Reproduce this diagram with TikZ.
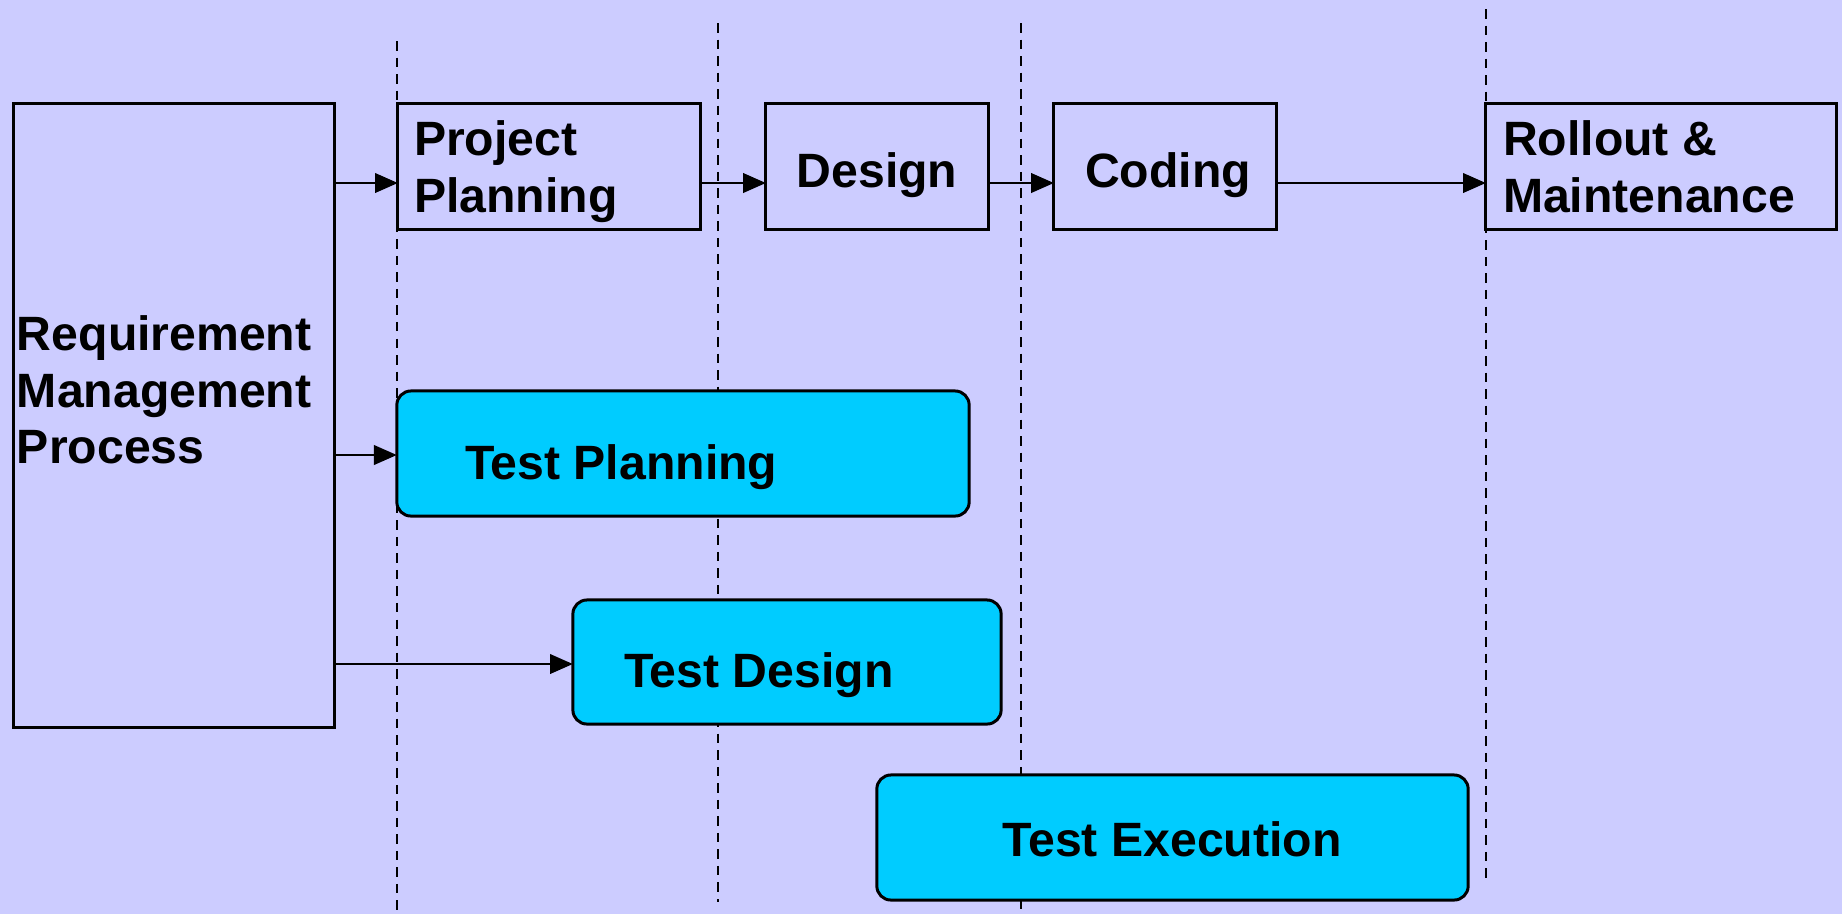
\documentclass[tikz,border=0pt]{standalone}
\usepackage{fontspec}
\setmainfont{Liberation Sans}
\usetikzlibrary{arrows.meta}
\definecolor{bg}{HTML}{CCCCFF}
\definecolor{cy}{HTML}{00CCFF}
\begin{document}
\begin{tikzpicture}[x=0.01cm,y=-0.01cm,
  every node/.style={font=\bfseries\fontsize{13.7pt}{16pt}\selectfont},
  box/.style={draw=black,line width=0.85pt,inner sep=0pt,outer sep=0pt},
  tbox/.style={box,fill=cy,rounded corners=4pt},
  lbl/.style={inner sep=0pt,outer sep=0pt,align=left},
  guide/.style={dash pattern=on 2.7pt off 2pt,line width=0.7pt},
  arr/.style={line width=0.8pt,-{Triangle[length=6.5pt,width=5.5pt]}}]
\fill[bg] (0,0) rectangle (1842,914);
\useasboundingbox (0,0) rectangle (1842,914);
% dashed guide lines
\coordinate (g1t) at (397,41);  \coordinate (g1b) at (397,914);
\coordinate (g2t) at (718,23);  \coordinate (g2b) at (718,902);
\coordinate (g3t) at (1021,23); \coordinate (g3b) at (1021,914);
\coordinate (g4t) at (1486,9);  \coordinate (g4b) at (1486,883);
\draw[guide] (g1t) -- (g1b);
\draw[guide] (g2t) -- (g2b);
\draw[guide] (g3t) -- (g3b);
\draw[guide] (g4t) -- (g4b);
% boxes
\node[box,minimum width=3.20cm,minimum height=6.23cm] (req) at (174,415.5) {};
\node[box,minimum width=3.02cm,minimum height=1.25cm] (pp) at (549,166.5) {};
\node[box,minimum width=2.22cm,minimum height=1.25cm] (des) at (877,166.5) {};
\node[box,minimum width=2.22cm,minimum height=1.25cm] (cod) at (1165,166.5) {};
\node[box,minimum width=3.50cm,minimum height=1.25cm] (roll) at (1661,166.5) {};
\node[tbox,minimum width=5.72cm,minimum height=1.25cm] (tplan) at (683,453.5) {};
\node[tbox,minimum width=4.28cm,minimum height=1.24cm] (tdes) at (787,662) {};
\node[tbox,minimum width=5.91cm,minimum height=1.25cm] (texec) at (1172.5,837.5) {};
% texts
\node[lbl,anchor=north west] (reqt) at (17,316) {Requirement\\Management\\Process};
\node[lbl,anchor=north west] (ppt) at (414,121) {Project\\Planning};
\node[lbl,anchor=base] (dest) at (877,187) {Design};
\node[lbl,anchor=base] (codt) at (1168,187) {Coding};
\node[lbl,anchor=north west] (rollt) at (1503,121) {Rollout \&\\Maintenance};
\node[lbl,anchor=base west] (tplant) at (465,479) {Test Planning};
\node[lbl,anchor=base west] (tdest) at (624,687) {Test Design};
\node[lbl,anchor=base] (texect) at (1172,856) {Test Execution};
% arrows
\draw[arr] (req.east |- 0,183) -- (pp.west |- 0,183);
\draw[arr] (pp.east |- 0,183) -- (des.west |- 0,183);
\draw[arr] (des.east |- 0,183) -- (cod.west |- 0,183);
\draw[arr] (cod.east |- 0,183) -- (roll.west |- 0,183);
\draw[arr] (req.east |- 0,455) -- (tplan.west |- 0,455);
\draw[arr] (req.east |- 0,664) -- (tdes.west |- 0,664);
\end{tikzpicture}
\end{document}
